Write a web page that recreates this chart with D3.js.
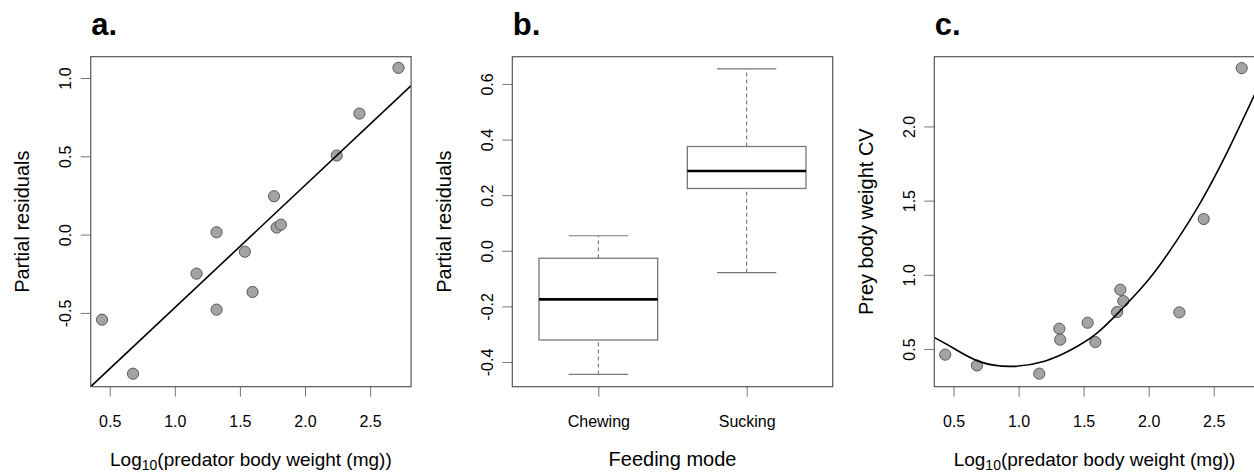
<!DOCTYPE html>
<html>
<head>
<meta charset="utf-8">
<script src="https://cdn.jsdelivr.net/npm/d3@7"></script>
<style>
  body { margin: 0; background: #fff; }
  svg { display: block; font-family: "Liberation Sans", Arial, sans-serif; }
</style>
</head>
<body>
<div id="chart-area"></div>
<script>
// data
const logWeight = [0.441, 0.679, 1.167, 1.321, 1.321, 1.538, 1.597, 1.762, 1.782, 1.815, 2.244, 2.418, 2.718];
const residualsA = [-0.543, -0.888, -0.249, 0.015, -0.479, -0.109, -0.366, 0.245, 0.045, 0.064, 0.505, 0.773, 1.065];
const fitLineX = [0.354, 2.815];
const fitLineY = [-0.971, 0.951];

const feedingModes = ['Chewing', 'Sucking'];
// [lower whisker, Q1, median, Q3, upper whisker]
const boxStats = [
  [-0.445, -0.321, -0.175, -0.027, 0.054],
  [-0.079, 0.224, 0.287, 0.375, 0.654]
];

const logWeightC = [0.436, 0.680, 1.159, 1.313, 1.320, 1.531, 1.590, 1.757, 1.782, 1.805, 2.236, 2.423, 2.715];
const preyCV = [0.462, 0.389, 0.334, 0.637, 0.563, 0.677, 0.547, 0.749, 0.900, 0.823, 0.747, 1.376, 2.393];
const curveX = [0.35, 0.5, 0.7, 0.95, 1.2, 1.4, 1.6, 1.8, 2.0, 2.2, 2.4, 2.6, 2.82];
const curveY = [0.578, 0.505, 0.415, 0.383, 0.418, 0.493, 0.605, 0.775, 0.968, 1.21, 1.49, 1.82, 2.225];

const ticksA = [0.5, 1.0, 1.5, 2.0, 2.5];
const yTicksA = [-0.5, 0.0, 0.5, 1.0];
const yTicksB = [-0.4, -0.2, 0.0, 0.2, 0.4, 0.6];
const yTicksC = [0.5, 1.0, 1.5, 2.0];

const W = 1254, H = 473;
const plotTop = 56.7, plotBottom = 386.7;
const boxW = 320.4;
const lefts = [90.7, 512.3, 934.3];

const svg = d3.select('#chart-area')
  .append('svg')
  .attr('width', W)
  .attr('height', H);

const fmt = d => d.toFixed(1);

function panel(i, label, xTitle, yTitle) {
  const x0 = lefts[i];
  const g = svg.append('g');

  g.append('defs').append('clipPath')
    .attr('id', 'clip' + i)
    .append('rect')
    .attr('x', x0).attr('y', plotTop)
    .attr('width', boxW).attr('height', plotBottom - plotTop);

  g.append('text')
    .attr('x', x0 + 0.5)
    .attr('y', 34.5)
    .attr('font-size', 31)
    .attr('font-weight', 'bold')
    .text(label);

  g.append('text')
    .attr('transform', 'translate(' + (x0 - 61.5) + ',' + ((plotTop + plotBottom) / 2) + ') rotate(-90)')
    .attr('text-anchor', 'middle')
    .attr('font-size', 20)
    .text(yTitle);

  const xt = g.append('text')
    .attr('x', x0 + boxW / 2)
    .attr('y', 465.7)
    .attr('text-anchor', 'middle')
    .attr('font-size', 20);
  if (xTitle === 'log') {
    xt.attr('font-size', 19);
    xt.append('tspan').text('Log');
    xt.append('tspan').attr('font-size', 14).attr('dy', 4).text('10');
    xt.append('tspan').attr('dy', -4).text('(predator body weight (mg))');
  } else {
    xt.text(xTitle);
  }
  return g;
}

function styleXAxis(sel) {
  sel.select('.domain').remove();
  sel.selectAll('line').attr('stroke', '#777');
  sel.selectAll('text')
    .attr('y', 40.6).attr('dy', null)
    .attr('font-size', 16)
    .attr('font-family', '"Liberation Sans", Arial, sans-serif')
    .attr('fill', '#000');
}

function styleYAxis(sel) {
  sel.select('.domain').remove();
  sel.selectAll('line').attr('stroke', '#777');
  sel.selectAll('text')
    .attr('x', null).attr('dy', null)
    .attr('transform', 'translate(-19.5,0) rotate(-90)')
    .attr('text-anchor', 'middle')
    .attr('font-size', 16)
    .attr('font-family', '"Liberation Sans", Arial, sans-serif')
    .attr('fill', '#000');
}

function frame(g, x0) {
  g.append('rect')
    .attr('x', x0).attr('y', plotTop)
    .attr('width', boxW).attr('height', plotBottom - plotTop)
    .attr('fill', 'none')
    .attr('stroke', '#555')
    .attr('stroke-width', 1.2);
}

function points(g, xs, ys, x, y) {
  g.selectAll('circle.pt')
    .data(xs)
    .join('circle')
    .attr('class', 'pt')
    .attr('cx', d => x(d))
    .attr('cy', (d, i) => y(ys[i]))
    .attr('r', 5.6)
    .attr('fill', '#a3a3a3')
    .attr('stroke', '#4d4d4d')
    .attr('stroke-width', 0.9);
}

// ---- panel a ----
const gA = panel(0, 'a.', 'log', 'Partial residuals');
const xA = d3.scaleLinear().domain([0.354, 2.815]).range([lefts[0], lefts[0] + boxW]);
const yA = d3.scaleLinear().domain([-0.971, 1.136]).range([plotBottom, plotTop]);

gA.append('g')
  .attr('transform', 'translate(0,' + plotBottom + ')')
  .call(d3.axisBottom(xA).tickValues(ticksA).tickFormat(fmt).tickSize(10))
  .call(styleXAxis);
gA.append('g')
  .attr('transform', 'translate(' + lefts[0] + ',0)')
  .call(d3.axisLeft(yA).tickValues(yTicksA).tickFormat(fmt).tickSize(10))
  .call(styleYAxis);

points(gA, logWeight, residualsA, xA, yA);

gA.append('line')
  .attr('clip-path', 'url(#clip0)')
  .attr('x1', xA(fitLineX[0])).attr('y1', yA(fitLineY[0]))
  .attr('x2', xA(fitLineX[1])).attr('y2', yA(fitLineY[1]))
  .attr('stroke', '#000')
  .attr('stroke-width', 1.6);
frame(gA, lefts[0]);

// ---- panel b ----
const gB = panel(1, 'b.', 'Feeding mode', 'Partial residuals');
const xB = d3.scalePoint().domain(feedingModes).range([lefts[1], lefts[1] + boxW]).padding(0.58);
const yB = d3.scaleLinear().domain([-0.489, 0.698]).range([plotBottom, plotTop]);
const step = xB.step();

gB.append('g')
  .attr('transform', 'translate(0,' + plotBottom + ')')
  .call(d3.axisBottom(xB).tickSize(10))
  .call(styleXAxis);
gB.append('g')
  .attr('transform', 'translate(' + lefts[1] + ',0)')
  .call(d3.axisLeft(yB).tickValues(yTicksB).tickFormat(fmt).tickSize(10))
  .call(styleYAxis);

const boxes = gB.selectAll('g.box')
  .data(feedingModes)
  .join('g')
  .attr('class', 'box');

boxes.each(function (m, i) {
  const s = boxStats[i];
  const cx = xB(m);
  const b = d3.select(this);
  const bw = step * 0.8, sw = step * 0.4;
  // whiskers
  b.append('line')
    .attr('x1', cx).attr('x2', cx)
    .attr('y1', yB(s[0])).attr('y2', yB(s[1]))
    .attr('stroke', '#666').attr('stroke-dasharray', '4,3');
  b.append('line')
    .attr('x1', cx).attr('x2', cx)
    .attr('y1', yB(s[3])).attr('y2', yB(s[4]))
    .attr('stroke', '#666').attr('stroke-dasharray', '4,3');
  [s[0], s[4]].forEach(v => {
    b.append('line')
      .attr('x1', cx - sw / 2).attr('x2', cx + sw / 2)
      .attr('y1', yB(v)).attr('y2', yB(v))
      .attr('stroke', '#777').attr('stroke-width', 1.2);
  });
  b.append('rect')
    .attr('x', cx - bw / 2).attr('y', yB(s[3]))
    .attr('width', bw).attr('height', yB(s[1]) - yB(s[3]))
    .attr('fill', '#fff')
    .attr('stroke', '#777').attr('stroke-width', 1.3);
  b.append('line')
    .attr('x1', cx - bw / 2).attr('x2', cx + bw / 2)
    .attr('y1', yB(s[2])).attr('y2', yB(s[2]))
    .attr('stroke', '#000').attr('stroke-width', 2.6);
});
frame(gB, lefts[1]);

// ---- panel c ----
const gC = panel(2, 'c.', 'log', 'Prey body weight CV');
const xC = d3.scaleLinear().domain([0.352, 2.815]).range([lefts[2], lefts[2] + boxW]);
const yC = d3.scaleLinear().domain([0.246, 2.47]).range([plotBottom, plotTop]);

gC.append('g')
  .attr('transform', 'translate(0,' + plotBottom + ')')
  .call(d3.axisBottom(xC).tickValues(ticksA).tickFormat(fmt).tickSize(10))
  .call(styleXAxis);
gC.append('g')
  .attr('transform', 'translate(' + lefts[2] + ',0)')
  .call(d3.axisLeft(yC).tickValues(yTicksC).tickFormat(fmt).tickSize(10))
  .call(styleYAxis);

points(gC, logWeightC, preyCV, xC, yC);

gC.append('path')
  .datum(curveX)
  .attr('clip-path', 'url(#clip2)')
  .attr('d', d3.line().x(d => xC(d)).y((d, i) => yC(curveY[i])).curve(d3.curveNatural))
  .attr('fill', 'none')
  .attr('stroke', '#000')
  .attr('stroke-width', 1.6);
frame(gC, lefts[2]);
</script>
</body>
</html>
